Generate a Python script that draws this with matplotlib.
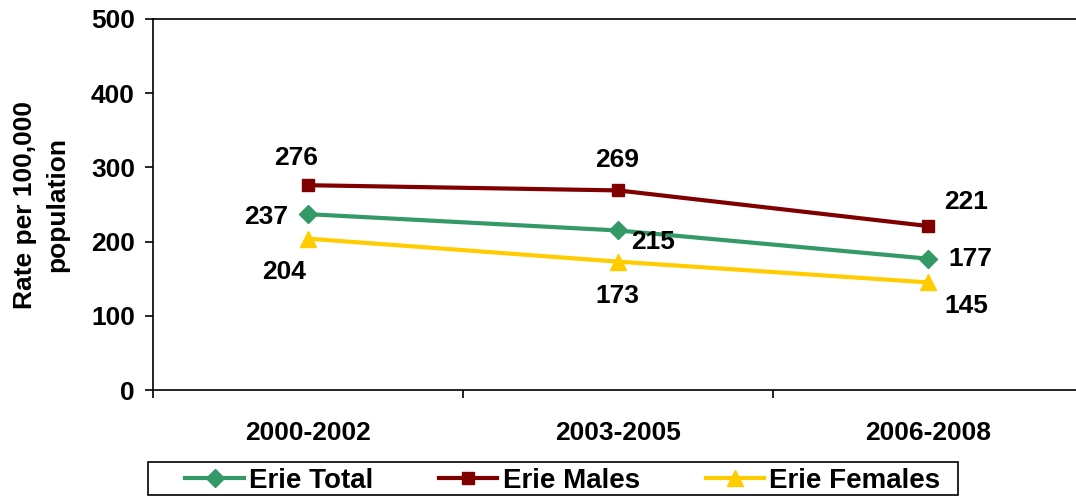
import matplotlib
matplotlib.use('Agg')
import matplotlib.pyplot as plt
from matplotlib.patches import Rectangle

plt.rcParams['font.family'] = ['Liberation Sans', 'DejaVu Sans']
plt.rcParams['font.weight'] = 'bold'

periods = ['2000-2002', '2003-2005', '2006-2008']
erie_total = [237, 215, 177]
erie_males = [276, 269, 221]
erie_females = [204, 173, 145]

# label offsets in pixels (dx, dy) for each series
total_offsets = [(-42, -3), (35, -12), (42, 0)]
males_offsets = [(-12, 27), (-1, 30), (38, 24)]
females_offsets = [(-24, -33), (-1, -34), (38, -24)]

W, H = 1076, 497
fig = plt.figure(figsize=(W / 100, H / 100), dpi=100)
ax = fig.add_axes([153 / W, 1 - 390 / H, 930 / W, 371 / H])

x = list(range(len(periods)))
series = [
    ('Erie Total', erie_total, '#339966', 'D', 9, total_offsets),
    ('Erie Males', erie_males, '#800000', 's', 9, males_offsets),
    ('Erie Females', erie_females, '#FFCC00', '^', 11, females_offsets),
]
for name, vals, color, marker, ms, offs in series:
    ax.plot(x, vals, color=color, lw=3, marker=marker, ms=ms, label=name,
            markeredgecolor=color)
    for xi, v, (dx, dy) in zip(x, vals, offs):
        ax.annotate(str(v), (xi, v), xytext=(dx, dy), textcoords='offset pixels',
                    ha='center', va='center', fontsize=19, fontweight='bold')

ax.set_xlim(-0.5, 2.5)
ax.set_ylim(0, 500)
ax.set_yticks([0, 100, 200, 300, 400, 500])
ax.set_xticks([-0.5, 0.5, 1.5, 2.5])
ax.set_xticklabels([])
ax.set_xticks(x, minor=True)
ax.set_xticklabels(periods, minor=True)
ax.tick_params(axis='x', which='major', direction='out', length=6, width=1.2)
ax.tick_params(axis='x', which='minor', length=0, pad=22, labelsize=19)
ax.tick_params(axis='y', direction='out', length=6, width=1.2, labelsize=19, pad=7)
for lab in ax.get_xticklabels(minor=True) + ax.get_yticklabels():
    lab.set_fontweight('bold')
for s in ['left', 'bottom', 'top']:
    ax.spines[s].set_linewidth(1.2)
ax.spines['right'].set_visible(False)

fig.text(41 / W, 1 - 205 / H, 'Rate per 100,000\npopulation', rotation=90,
         ha='center', va='center', fontsize=19, fontweight='bold', linespacing=1.4)

# legend box drawn separately, entries spread inside it
fig.patches.append(Rectangle((148 / W, 2 / H), 810 / W, 33 / H, transform=fig.transFigure,
                             facecolor='white', edgecolor='black', lw=1.2, zorder=0))
leg = fig.legend(loc='lower left', bbox_to_anchor=(184 / W, 2 / H, 758 / W, 33 / H),
                 mode='expand', ncol=3, fontsize=20, frameon=False,
                 handlelength=2.1, handletextpad=0.2, borderpad=0.05, borderaxespad=0)
for t in leg.get_texts():
    t.set_fontweight('bold')

fig.savefig('out.png', dpi=100)
